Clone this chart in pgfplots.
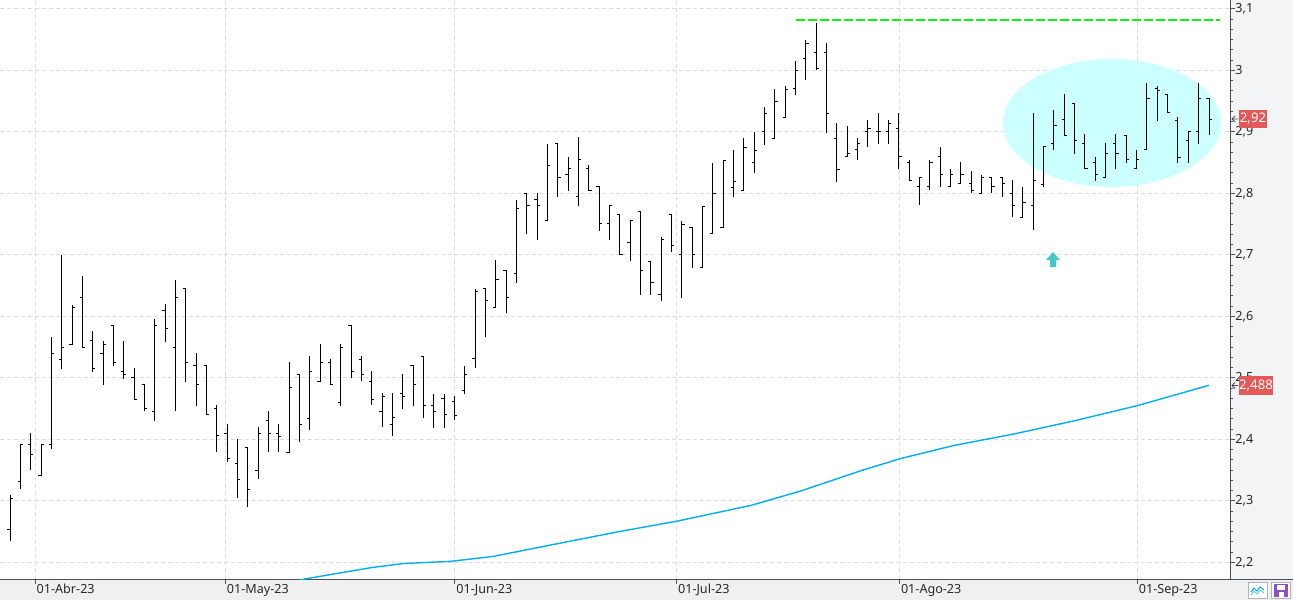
\documentclass[border=0pt]{standalone}
\usepackage{fontspec}
\setmainfont{Noto Sans}
\usepackage{pgfplots}
\pgfplotsset{compat=1.18}
\usepackage{pgfplotstable}
\definecolor{gridc}{RGB}{220,220,220}
\definecolor{axc}{RGB}{80,80,80}
\definecolor{tickc}{RGB}{40,40,40}
\definecolor{rightbg}{RGB}{243,244,246}
\definecolor{bottombg}{RGB}{240,240,240}
\definecolor{labred}{RGB}{228,88,88}
\definecolor{greenc}{RGB}{20,240,20}
\definecolor{ellc}{RGB}{204,255,255}
\definecolor{arrowc}{RGB}{70,198,200}
\definecolor{mac}{RGB}{0,174,239}
\definecolor{iconp}{RGB}{140,80,196}
\pgfdeclareplotmark{openL}{\pgfpathmoveto{\pgfqpoint{-1.35pt}{0pt}}\pgfpathlineto{\pgfqpoint{0.25pt}{0pt}}\pgfusepathqstroke}
\pgfdeclareplotmark{closeR}{\pgfpathmoveto{\pgfqpoint{-0.25pt}{0pt}}\pgfpathlineto{\pgfqpoint{1.35pt}{0pt}}\pgfusepathqstroke}
\pgfplotstableread{
i O H L C
-1 2.245 2.255 2.225 2.239
0 2.253 2.309 2.234 2.3035
1 2.331 2.391 2.320 2.391
2 2.391 2.4105 2.350 2.375
3 2.341 2.391 2.341 2.391
4 2.391 2.566 2.385 2.540
5 2.530 2.700 2.515 2.550
6 2.5545 2.619 2.5545 2.614
7 2.630 2.665 2.550 2.550
8 2.560 2.576 2.510 2.516
9 2.540 2.560 2.489 2.5545
10 2.585 2.585 2.520 2.525
11 2.510 2.560 2.499 2.505
12 2.500 2.516 2.4655 2.4655
13 2.490 2.490 2.4455 2.451
14 2.446 2.5955 2.4295 2.585
15 2.609 2.620 2.559 2.580
16 2.550 2.660 2.4455 2.630
17 2.645 2.645 2.494 2.525
18 2.5205 2.540 2.455 2.490
19 2.5205 2.5205 2.440 2.440
20 2.451 2.4565 2.380 2.406
21 2.410 2.425 2.364 2.369
22 2.360 2.400 2.304 2.335
23 2.386 2.386 2.290 2.319
24 2.350 2.420 2.335 2.410
25 2.430 2.446 2.379 2.410
26 2.410 2.425 2.379 2.405
27 2.379 2.526 2.379 2.485
28 2.506 2.506 2.395 2.425
29 2.4345 2.536 2.4145 2.511
30 2.4946 2.555 2.4946 2.525
31 2.525 2.530 2.490 2.490
32 2.460 2.555 2.455 2.550
33 2.5856 2.5856 2.4995 2.511
34 2.530 2.535 2.4946 2.506
35 2.4946 2.511 2.4556 2.465
36 2.445 2.475 2.420 2.470
37 2.425 2.475 2.405 2.435
38 2.475 2.506 2.450 2.470
39 2.5206 2.5206 2.455 2.490
40 2.535 2.535 2.434 2.4556
41 2.455 2.474 2.418 2.445
42 2.466 2.474 2.418 2.440
43 2.462 2.470 2.432 2.439
44 2.479 2.520 2.473 2.505
45 2.531 2.645 2.516 2.641
46 2.645 2.645 2.566 2.626
47 2.614 2.6916 2.614 2.660
48 2.675 2.675 2.605 2.631
49 2.670 2.790 2.655 2.775
50 2.800 2.800 2.734 2.780
51 2.790 2.800 2.725 2.780
52 2.756 2.881 2.756 2.8455
53 2.881 2.881 2.794 2.8255
54 2.831 2.860 2.804 2.840
55 2.795 2.891 2.780 2.855
56 2.840 2.8455 2.804 2.804
57 2.811 2.811 2.739 2.751
58 2.751 2.780 2.725 2.780
59 2.7655 2.7655 2.700 2.700
60 2.720 2.756 2.690 2.756
61 2.770 2.770 2.635 2.675
62 2.690 2.690 2.635 2.6546
63 2.635 2.729 2.6254 2.7243
64 2.765 2.765 2.7043 2.7146
65 2.700 2.755 2.630 2.750
66 2.744 2.744 2.679 2.700
67 2.679 2.7795 2.679 2.7795
68 2.7346 2.8497 2.7346 2.7995
69 2.744 2.854 2.744 2.854
70 2.810 2.870 2.7935 2.820
71 2.804 2.890 2.804 2.875
72 2.850 2.900 2.834 2.870
73 2.900 2.9405 2.8795 2.930
74 2.890 2.970 2.890 2.950
75 2.924 2.975 2.924 2.969
76 2.970 3.015 2.9595 3.000
77 3.0195 3.050 2.984 3.044
78 3.029 3.077 3.000 3.004
79 3.029 3.044 2.899 2.930
80 2.890 2.914 2.819 2.839
81 2.860 2.910 2.860 2.865
82 2.871 2.890 2.855 2.8806
83 2.900 2.9195 2.875 2.905
84 2.900 2.931 2.8806 2.900
85 2.900 2.9195 2.8806 2.9145
86 2.905 2.931 2.840 2.860
87 2.8505 2.854 2.821 2.821
88 2.811 2.826 2.781 2.826
89 2.811 2.855 2.805 2.8505
90 2.860 2.875 2.811 2.8306
91 2.811 2.840 2.811 2.8306
92 2.816 2.8505 2.816 2.8306
93 2.816 2.836 2.800 2.805
94 2.800 2.8306 2.800 2.826
95 2.826 2.826 2.800 2.811
96 2.826 2.826 2.795 2.816
97 2.800 2.8215 2.761 2.781
98 2.761 2.811 2.761 2.7855
99 2.781 2.931 2.740 2.821
100 2.815 2.876 2.811 2.876
101 2.881 2.936 2.871 2.910
102 2.920 2.961 2.895 2.895
103 2.9456 2.9456 2.864 2.886
104 2.881 2.896 2.840 2.840
105 2.850 2.860 2.8205 2.8307
106 2.826 2.8814 2.826 2.8647
107 2.881 2.8965 2.840 2.8647
108 2.895 2.895 2.8496 2.855
109 2.840 2.871 2.840 2.855
110 2.871 2.9795 2.871 2.955
111 2.970 2.975 2.9186 2.968
112 2.9607 2.9607 2.931 2.931
113 2.9186 2.925 2.8496 2.859
114 2.886 2.900 2.8496 2.900
115 2.900 2.9795 2.880 2.955
116 2.955 2.955 2.895 2.920
}\ohlc
\begin{document}
\begin{tikzpicture}
\useasboundingbox (0,0) rectangle (646.5pt,300pt);
\begin{scope}[x=0.5pt,y=-0.5pt,shift={(0pt,300pt)}]
\fill[rightbg] (1231,0) rectangle (1293,580);
\fill[bottombg] (0,579) rectangle (1293,600);
\end{scope}
\begin{axis}[
  at={(0pt,10.5pt)}, anchor=south west, scale only axis,
  width=615pt, height=289.5pt,
  xmin=-0.9675, xmax=118.034, ymin=2.1729, ymax=3.1146,
  axis x line*=bottom, axis y line*=right,
  axis line style={draw=axc, line width=0.5pt},
  xtick={2.45,20.85,43.05,64.5,86.07,109.08},
  xticklabels={01-Abr-23,01-May-23,01-Jun-23,01-Jul-23,01-Ago-23,01-Sep-23},
  ytick={2.2,2.3,2.4,2.5,2.6,2.7,2.8,2.9,3.0,3.1},
  yticklabels={{2,2},{2,3},{2,4},{2,5},{2,6},{2,7},{2,8},{2,9},{3},{3,1}},
  minor y tick num=5,
  tick align=outside,
  major tick length=2.5pt, minor tick length=1.4pt,
  tick style={draw=axc, line width=0.5pt},
  grid=major,
  major grid style={draw=gridc, line width=0.5pt, dash pattern=on 2pt off 1.5pt},
  ticklabel style={font=\fontsize{6.3}{7}\selectfont, text=tickc},
  xticklabel style={anchor=north west, inner sep=0pt, xshift=0.5pt},
  yticklabel style={anchor=west, inner sep=0pt},
]
\fill[ellc] (axis cs:106.62,2.9146) ellipse [x radius=54.5pt, y radius=32pt];
\addplot[mac, line width=0.7pt] coordinates {(26,2.162) (28.5,2.1729) (32,2.183) (35,2.1915) (38,2.198) (42.7,2.2017) (46.8,2.2098) (52.8,2.2298) (58.7,2.2493) (64.6,2.2672) (71.7,2.2927) (76.5,2.316) (82.4,2.3495) (86.1,2.3685) (91.3,2.390) (97.2,2.409) (103.1,2.4307) (109.1,2.455) (116,2.488)};
\addplot[draw=none, mark=none, error bars/.cd, y dir=plus, y explicit, error mark=none,
  error bar style={draw=black, solid, line width=0.5pt}]
  table[x=i, y=L, y error expr=\thisrow{H}-\thisrow{L}] {\ohlc};
\addplot[only marks, mark=openL, mark options={draw=black, line width=0.5pt, solid}] table[x=i, y=O] {\ohlc};
\addplot[only marks, mark=closeR, mark options={draw=black, line width=0.5pt, solid}] table[x=i, y=C] {\ohlc};
\addplot[greenc, line width=1pt, dash pattern=on 4.6pt off 1.4pt] coordinates {(76.05,3.0816) (117.07,3.0816)};
\fill[arrowc] (axis cs:100.91,2.7047) -- ++(3.5pt,-4pt) -- ++(-2pt,0pt) -- ++(0pt,-3.5pt) -- ++(-3pt,0pt) -- ++(0pt,3.5pt) -- ++(-2pt,0pt) -- cycle;
\end{axis}
\begin{scope}[x=0.5pt,y=-0.5pt,shift={(0pt,300pt)}]
\draw[axc, line width=0.5pt] (1230,579.5) -- (1293,579.5);
\fill[labred] (1239,110) rectangle (1267,128);
\node[text=white, inner sep=0pt, font=\fontsize{6.6}{7}\selectfont] at (1253,119) {2,92};
\fill[labred] (1239,376) rectangle (1273,395);
\node[text=white, inner sep=0pt, font=\fontsize{6.6}{7}\selectfont] at (1256,385.5) {2,488};
\draw[axc, line width=0.4pt] (1232,119) -- (1238,119) (1235,116) -- (1232,119) -- (1235,122);
\draw[axc, line width=0.4pt] (1232,385.5) -- (1238,385.5) (1235,382.5) -- (1232,385.5) -- (1235,388.5);
\draw[gray!60, fill=white, line width=0.5pt] (1248.5,582.5) rectangle (1267.5,598.5);
\draw[mac, line width=0.5pt] (1251,592) -- (1254,588) -- (1257,591) -- (1260,587) -- (1264,590);
\draw[mac!60, line width=0.5pt] (1251,595) -- (1254,591) -- (1257,594) -- (1260,590) -- (1264,593);
\draw[gray!60, fill=white, line width=0.5pt] (1271.5,582.5) rectangle (1290.5,598.5);
\fill[iconp] (1274,584) rectangle (1288,597);
\fill[white] (1277,585) rectangle (1285,590);
\fill[white] (1278.5,592) rectangle (1283.5,597);
\end{scope}
\end{tikzpicture}
\end{document}
